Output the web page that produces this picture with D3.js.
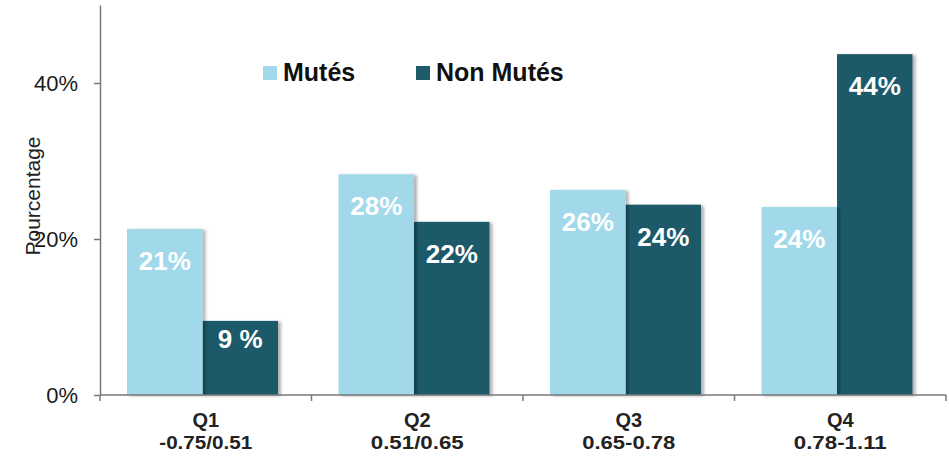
<!DOCTYPE html>
<html>
<head>
<meta charset="utf-8">
<script src="https://cdn.jsdelivr.net/npm/d3@7"></script>
<style>
  html, body { margin: 0; padding: 0; background: #fff; }
  svg { display: block; font-family: "Liberation Sans", Arial, sans-serif; }
</style>
</head>
<body>
<svg id="chart" width="949" height="456"></svg>
<script>
// ---- data ----
const categories = ["Q1", "Q2", "Q3", "Q4"];
const ranges = ["-0.75/0.51", "0.51/0.65", "0.65-0.78", "0.78-1.11"];
const seriesNames = ["Mutés", "Non Mutés"];
const mutes = [21.3, 28.3, 26.3, 24.1];
const nonMutes = [9.5, 22.2, 24.4, 43.7];
const mutesLabels = ["21%", "28%", "26%", "24%"];
const nonMutesLabels = ["9 %", "22%", "24%", "44%"];
const yTicks = [0, 20, 40];
const yTitle = "Pourcentage";

const colors = ["#a1d9eb", "#1f5a6a"];

const svg = d3.select("#chart");

const x = d3.scaleBand().domain(categories).range([100, 946]).padding(0);
const xs = d3.scaleBand().domain(seriesNames).range([27, 178]).padding(0);
const y = d3.scaleLinear().domain([0, 50]).range([395, 5]);

// shadow filter
const defs = svg.append("defs");
const f = defs.append("filter").attr("id", "sh").attr("x", "-10%").attr("y", "-10%").attr("width", "130%").attr("height", "130%");
f.append("feDropShadow").attr("dx", 3).attr("dy", 1).attr("stdDeviation", 1.5)
  .attr("flood-color", "#000").attr("flood-opacity", 0.3);

const rows = categories.map((c, i) => ({
  cat: c,
  vals: [
    { s: seriesNames[0], v: mutes[i], label: mutesLabels[i], idx: 0 },
    { s: seriesNames[1], v: nonMutes[i], label: nonMutesLabels[i], idx: 1 }
  ]
}));

const g = svg.selectAll("g.grp").data(rows).join("g")
  .attr("class", "grp")
  .attr("transform", d => `translate(${x(d.cat)},0)`);

g.selectAll("rect").data(d => d.vals.slice().reverse()).join("rect")
  .attr("x", d => xs(d.s))
  .attr("y", d => y(d.v))
  .attr("width", xs.bandwidth())
  .attr("height", d => y(0) - y(d.v))
  .attr("fill", d => colors[d.idx])
  .attr("filter", "url(#sh)");

g.selectAll("text.val").data(d => d.vals).join("text")
  .attr("class", "val")
  .attr("x", d => xs(d.s) + xs.bandwidth() / 2)
  .attr("y", d => {
    const h = y(0) - y(d.v);
    return y(d.v) + Math.min(41, h * 0.37);
  })
  .attr("text-anchor", "middle")
  .attr("fill", "#fff")
  .attr("font-size", 26)
  .attr("font-weight", "bold")
  .text(d => d.label);

// y axis
const yAxis = d3.axisLeft(y).tickValues(yTicks).tickFormat(d => d + "%")
  .tickSize(6).tickSizeOuter(0).tickPadding(16);
const ya = svg.append("g").attr("transform", "translate(100,0)").call(yAxis);
ya.select(".domain").attr("stroke", "#777").attr("stroke-width", 1.5);
ya.selectAll(".tick line").attr("stroke", "#777").attr("stroke-width", 1.5);
ya.selectAll(".tick text").attr("font-size", 22).attr("fill", "#1a1a1a")
  .attr("font-family", "Liberation Sans, Arial, sans-serif");

// x axis baseline
svg.append("line")
  .attr("x1", x.range()[0]).attr("x2", x.range()[1])
  .attr("y1", y(0)).attr("y2", y(0))
  .attr("stroke", "#777").attr("stroke-width", 1.5);
const bounds = categories.map(c => x(c)).concat([x.range()[1]]);
svg.selectAll("line.xt").data(bounds).join("line")
  .attr("class", "xt")
  .attr("x1", d => d).attr("x2", d => d)
  .attr("y1", y(0)).attr("y2", y(0) + 6)
  .attr("stroke", "#777").attr("stroke-width", 1.5);

// x labels
svg.selectAll("text.xq").data(categories).join("text")
  .attr("class", "xq")
  .attr("x", d => x(d) + x.bandwidth() / 2)
  .attr("y", 427)
  .attr("text-anchor", "middle")
  .attr("font-size", 20).attr("font-weight", "bold").attr("fill", "#222")
  .text(d => d);
svg.selectAll("text.xr").data(ranges).join("text")
  .attr("class", "xr")
  .attr("x", (d, i) => x(categories[i]) + x.bandwidth() / 2)
  .attr("y", 449)
  .attr("text-anchor", "middle")
  .attr("font-size", 19).attr("font-weight", "bold").attr("fill", "#222")
  .attr("textLength", 93).attr("lengthAdjust", "spacingAndGlyphs")
  .text(d => d);

// y title
svg.append("text")
  .attr("transform", "translate(40,196) rotate(-90)")
  .attr("text-anchor", "middle")
  .attr("font-size", 21).attr("fill", "#222")
  .text(yTitle);

// legend
const legendX = [263, 416];
const lg = svg.selectAll("g.leg").data(seriesNames).join("g")
  .attr("class", "leg")
  .attr("transform", (d, i) => `translate(${legendX[i]},0)`);
lg.append("rect").attr("x", 0).attr("y", 66).attr("width", 14).attr("height", 14)
  .attr("fill", (d, i) => colors[i]);
lg.append("text").attr("x", 20).attr("y", 81)
  .attr("font-size", 25).attr("font-weight", "bold").attr("fill", "#111")
  .text(d => d);
</script>
</body>
</html>
